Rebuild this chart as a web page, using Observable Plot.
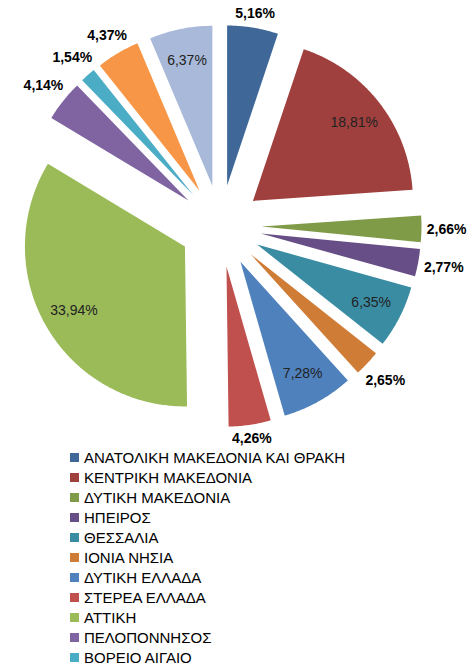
<!DOCTYPE html>
<html><head><meta charset="utf-8">
<script src="https://cdn.jsdelivr.net/npm/d3@7"></script>
<script src="https://cdn.jsdelivr.net/npm/@observablehq/plot@0.6"></script>
<style>
body{margin:0;background:#fff;overflow:hidden;font-family:"Liberation Sans",Arial,sans-serif}
#legend{margin-left:70px;margin-top:0}
.row{display:flex;align-items:center;height:20.1px;font-size:15px;color:#000;white-space:nowrap}
.sw{width:9px;height:9px;margin-right:5px;flex:none}
</style></head><body><div id="chart"></div><div id="legend"></div>
<script>
const regions = ["ΑΝΑΤΟΛΙΚΗ ΜΑΚΕΔΟΝΙΑ ΚΑΙ ΘΡΑΚΗ","ΚΕΝΤΡΙΚΗ ΜΑΚΕΔΟΝΙΑ","ΔΥΤΙΚΗ ΜΑΚΕΔΟΝΙΑ","ΗΠΕΙΡΟΣ","ΘΕΣΣΑΛΙΑ","ΙΟΝΙΑ ΝΗΣΙΑ","ΔΥΤΙΚΗ ΕΛΛΑΔΑ","ΣΤΕΡΕΑ ΕΛΛΑΔΑ","ΑΤΤΙΚΗ","ΠΕΛΟΠΟΝΝΗΣΟΣ","ΒΟΡΕΙΟ ΑΙΓΑΙΟ","ΝΟΤΙΟ ΑΙΓΑΙΟ","ΚΡΗΤΗ"];
const shares = [5.16,18.81,2.66,2.77,6.35,2.65,7.28,4.26,33.94,4.14,1.54,4.37,6.37];
const colors = ["#3F6898","#9F403E","#7F9B48","#674E86","#3A8CA3","#CF7C37","#4F81BD","#C0504D","#9BBB59","#8064A2","#4BACC6","#F79646","#A8B9D9"];
const labelInside = [false,true,false,false,true,false,true,false,true,false,false,false,true];

const W = 467, H = 447, cx = 220, cy = 225.5, R = 160, EXP = 41;
const arcs = d3.pie().sort(null).value(d => d)(shares);

const polys = [];
const labels = [];
arcs.forEach((a, i) => {
  const mid = (a.startAngle + a.endAngle) / 2;
  const ox = EXP * Math.sin(mid), oy = -EXP * Math.cos(mid);
  const pts = [{x: ox, y: oy}];
  const n = Math.max(2, Math.ceil((a.endAngle - a.startAngle) / 0.01));
  for (let k = 0; k <= n; k++) {
    const t = a.startAngle + (a.endAngle - a.startAngle) * k / n;
    pts.push({x: ox + R * Math.sin(t), y: oy - R * Math.cos(t)});
  }
  pts.forEach(p => polys.push({...p, region: regions[i]}));
  const s = Math.sin(mid), c = -Math.cos(mid);
  const text = shares[i].toFixed(2).replace(".", ",") + "%";
  let dist;
  if (labelInside[i]) dist = EXP + 0.8 * R;
  else dist = EXP + R + 3 + Math.abs(s) * 22 + Math.abs(c) * 8;
  labels.push({x: s * dist, y: c * dist, text, inside: labelInside[i]});
});

const chart = Plot.plot({
  width: W, height: H, margin: 0,
  x: {domain: [-cx, W - cx], range: [0, W], axis: null},
  y: {domain: [-cy, H - cy], range: [0, H], axis: null},
  color: {type: "ordinal", domain: regions, range: colors},
  style: {fontFamily: '"Liberation Sans", Arial, sans-serif', background: "#fff"},
  marks: [
    Plot.line(polys, {x: "x", y: "y", z: "region", fill: "region", stroke: null, curve: "linear-closed"}),
    Plot.text(labels.filter(d => d.inside), {x: "x", y: "y", text: "text", fill: "#222", fontSize: 14, textAnchor: "middle", lineAnchor: "middle"}),
    Plot.text(labels.filter(d => !d.inside), {x: "x", y: "y", text: "text", fill: "#000", fontSize: 14, fontWeight: "bold", textAnchor: "middle", lineAnchor: "middle"})
  ]
});
document.getElementById("chart").appendChild(chart);

const legend = document.getElementById("legend");
regions.forEach((r, i) => {
  const row = document.createElement("div");
  row.className = "row";
  const sw = document.createElement("span");
  sw.className = "sw";
  sw.style.background = colors[i];
  const t = document.createElement("span");
  t.textContent = r;
  row.appendChild(sw); row.appendChild(t);
  legend.appendChild(row);
});
</script></body></html>
